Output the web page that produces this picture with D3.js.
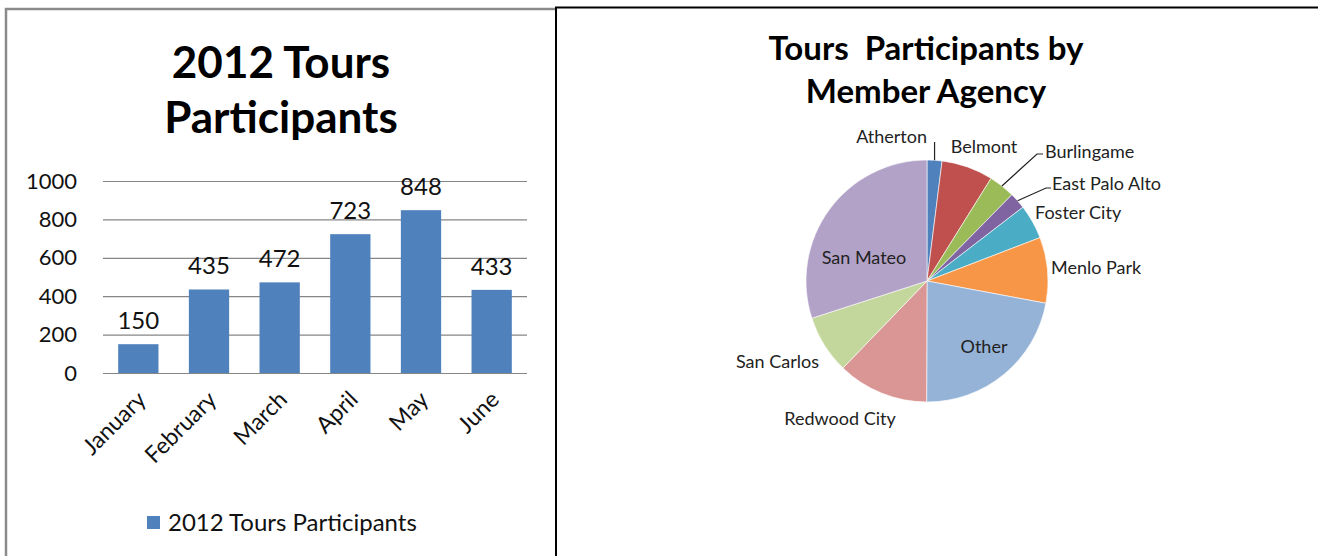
<!DOCTYPE html>
<html>
<head>
<meta charset="utf-8">
<script src="https://cdn.jsdelivr.net/npm/d3@7"></script>
<style>
  body { margin: 0; background: #fff; }
  svg { display: block; font-family: Lato, "Open Sans", sans-serif; }
</style>
</head>
<body>
<svg id="tours" width="1318" height="556"></svg>
<script>
// bar chart data
const months = ["January", "February", "March", "April", "May", "June"];
const participants = [150, 435, 472, 723, 848, 433];
const yTicks = [0, 200, 400, 600, 800, 1000];

// pie chart data
const agencies = ["Atherton", "Belmont", "Burlingame", "East Palo Alto", "Foster City",
    "Menlo Park", "Other", "Redwood City", "San Carlos", "San Mateo"];
const agencyCounts = [61, 211, 107, 67, 141, 269, 677, 373, 239, 918];

const agencyColors = ["#4F81BD", "#C0504D", "#9BBB59", "#8064A2", "#4BACC6",
    "#F79646", "#95B3D7", "#D99694", "#C3D69B", "#B3A2C7"];

const svg = d3.select("svg#tours");

// panel borders
const frame = svg.append("g").attr("id", "frame");
frame.append("path")
    .attr("d", "M6,556 V9 H556")
    .attr("fill", "none")
    .attr("stroke", "#8a8a8a")
    .attr("stroke-width", 2.5);
frame.append("path")
    .attr("d", "M556,556 V7.5 H1318")
    .attr("fill", "none")
    .attr("stroke", "#000")
    .attr("stroke-width", 2);

// ---------- bar chart ----------
const bar = svg.append("g").attr("id", "bars");

bar.append("text")
    .attr("x", 281)
    .attr("text-anchor", "middle")
    .attr("font-weight", "bold")
    .attr("font-size", 44)
    .attr("fill", "#000")
    .selectAll("tspan")
    .data(["2012 Tours", "Participants"])
    .join("tspan")
    .attr("x", 281)
    .attr("y", (d, i) => 78 + i * 55)
    .text(d => d);

const plot = { left: 103, right: 527, top: 181, bottom: 373 };

const yScale = d3.scaleLinear().domain([0, 1000]).range([plot.bottom, plot.top]);
const xScale = d3.scaleBand().domain(months)
    .range([plot.left, plot.right])
    .paddingInner(0.43)
    .paddingOuter(0.215);

// gridlines + y labels
const leftAxis = d3.axisLeft(yScale)
    .tickValues(yTicks)
    .tickSize(-(plot.right - plot.left))
    .tickPadding(26)
    .tickFormat(d3.format("d"));
const yAxisG = bar.append("g")
    .attr("class", "y axis")
    .attr("transform", `translate(${plot.left},0)`)
    .call(leftAxis);
yAxisG.select(".domain").remove();
yAxisG.selectAll("line").attr("stroke", "#868686").attr("stroke-width", 1.2);
yAxisG.selectAll("text")
    .attr("font-family", "Lato, sans-serif")
    .attr("font-size", 22)
    .attr("fill", "#111");

bar.selectAll("rect.bar")
    .data(participants)
    .join("rect")
    .attr("class", "bar")
    .attr("x", (d, i) => xScale(months[i]))
    .attr("y", d => yScale(d))
    .attr("width", xScale.bandwidth())
    .attr("height", d => yScale(0) - yScale(d))
    .attr("fill", "#4F81BD");

// value labels
bar.selectAll("text.value")
    .data(participants)
    .join("text")
    .attr("class", "value")
    .attr("x", (d, i) => xScale(months[i]) + xScale.bandwidth() / 2)
    .attr("y", d => yScale(d) - 15)
    .attr("text-anchor", "middle")
    .attr("font-size", 24)
    .attr("fill", "#111")
    .text(d => d);

// month labels
const bottomAxis = d3.axisBottom(xScale).tickSize(0).tickPadding(0);
const xAxisG = bar.append("g")
    .attr("class", "x axis")
    .attr("transform", `translate(0,${plot.bottom})`)
    .call(bottomAxis);
xAxisG.select(".domain").remove();
xAxisG.selectAll("text")
    .attr("font-family", "Lato, sans-serif")
    .attr("font-size", 23)
    .attr("fill", "#111")
    .attr("text-anchor", "end")
    .attr("dy", 0)
    .attr("y", 0)
    .attr("transform", "translate(9,28) rotate(-45)");

// legend
const legend = bar.append("g").attr("transform", "translate(147,516)");
legend.append("rect").attr("width", 13).attr("height", 13).attr("fill", "#4F81BD");
legend.append("text")
    .attr("x", 21)
    .attr("y", 14.5)
    .attr("font-size", 24)
    .attr("fill", "#111")
    .text("2012 Tours Participants");

// ---------- pie chart ----------
const pieG = svg.append("g").attr("id", "pie");

pieG.append("text")
    .attr("text-anchor", "middle")
    .attr("font-weight", "bold")
    .attr("font-size", 33)
    .attr("fill", "#000")
    .selectAll("tspan")
    .data(["Tours  Participants by", "Member Agency"])
    .join("tspan")
    .attr("x", 926)
    .attr("y", (d, i) => 60 + i * 43)
    .attr("xml:space", "preserve")
    .style("white-space", "pre")
    .text(d => d);

const center = { x: 927, y: 281 };
const radius = 121;

const pie = d3.pie().sort(null).value(d => d);
const arcs = pie(agencyCounts);
const arc = d3.arc().innerRadius(0).outerRadius(radius);
const edgeArc = d3.arc().innerRadius(radius).outerRadius(radius);

const slices = pieG.append("g").attr("transform", `translate(${center.x},${center.y})`);

slices.selectAll("path")
    .data(arcs)
    .join("path")
    .attr("d", arc)
    .attr("fill", (d, i) => agencyColors[i])
    .attr("stroke", "#fff")
    .attr("stroke-width", 0.6);

// label placement relative to the pie centre (Excel "best fit" style)
const labelLayout = {
    "Atherton": { dx: 0, dy: -144, anchor: "end", leader: [[9, -139]] },
    "Belmont": { dx: 57, dy: -134, anchor: "middle" },
    "Burlingame": { dx: 118, dy: -129, anchor: "start", leader: [[110, -127], [116, -127]] },
    "East Palo Alto": { dx: 125, dy: -97, anchor: "start", leader: [[119, -93], [124, -93]] },
    "Foster City": { dx: 108, dy: -68, anchor: "start" },
    "Menlo Park": { dx: 124, dy: -13, anchor: "start" },
    "Other": { dx: 57, dy: 66, anchor: "middle" },
    "Redwood City": { dx: -87, dy: 138, anchor: "middle" },
    "San Carlos": { dx: -108, dy: 81, anchor: "end" },
    "San Mateo": { dx: -63, dy: -23, anchor: "middle" }
};

arcs.forEach((a, i) => {
    const lay = labelLayout[agencies[i]];
    if (lay.leader) {
        const start = edgeArc.centroid(a);
        const pts = [start].concat(lay.leader);
        if (agencies[i] === "Atherton") pts[1] = [start[0], lay.leader[0][1]];
        slices.append("path")
            .attr("d", d3.line()(pts))
            .attr("fill", "none")
            .attr("stroke", "#222")
            .attr("stroke-width", 1.2);
    }
    slices.append("text")
        .attr("x", lay.dx)
        .attr("y", lay.dy)
        .attr("dy", "0.35em")
        .attr("text-anchor", lay.anchor)
        .attr("font-size", 18)
        .attr("fill", "#222")
        .text(agencies[i]);
});
</script>
</body>
</html>
